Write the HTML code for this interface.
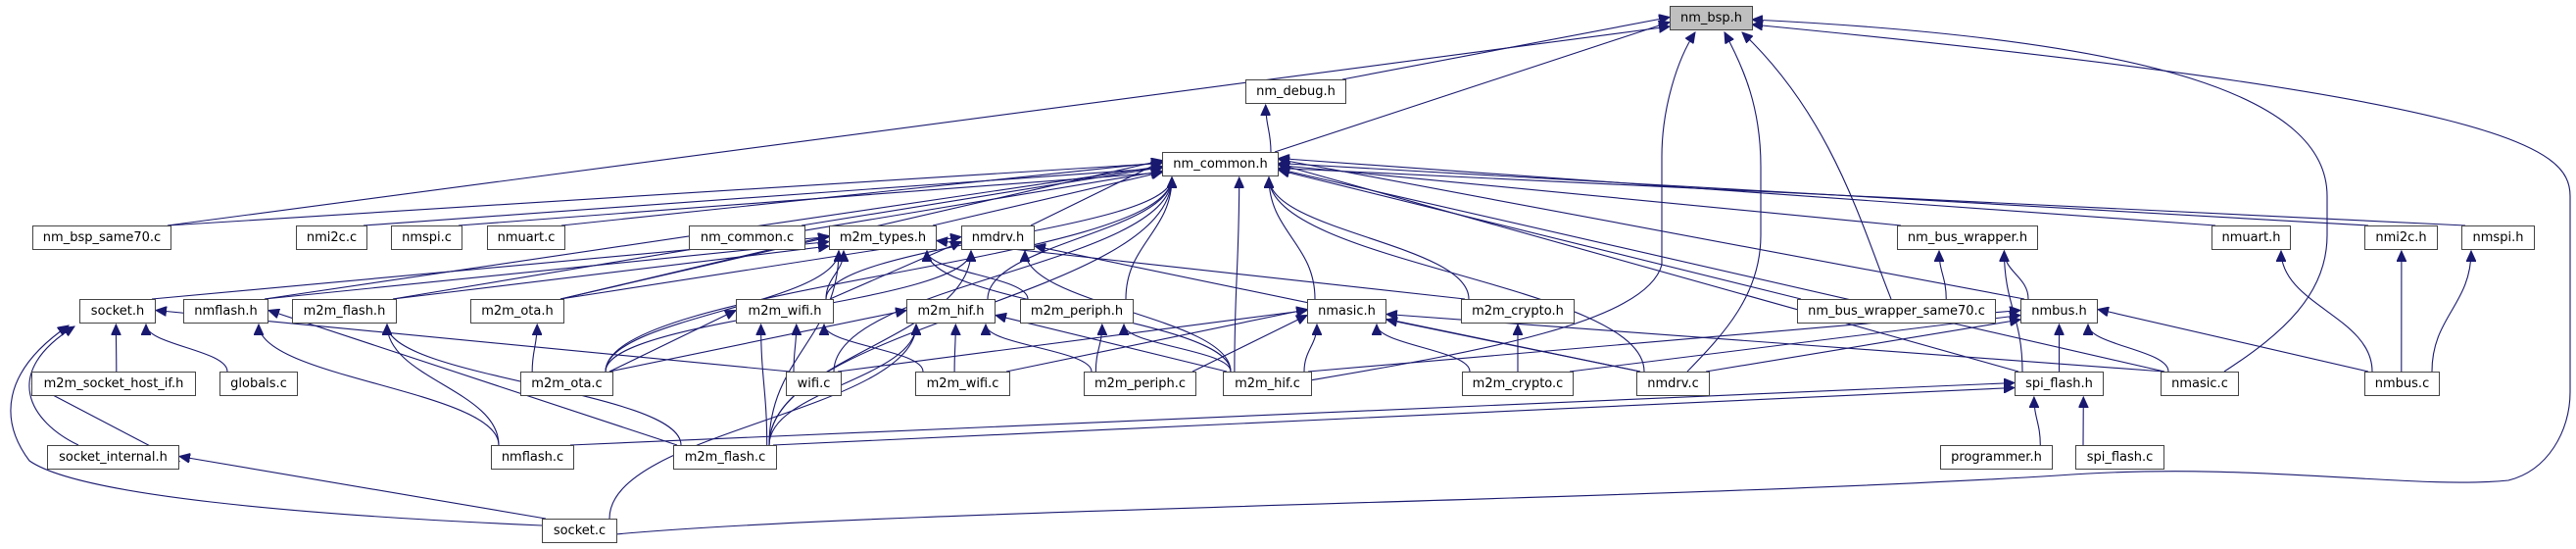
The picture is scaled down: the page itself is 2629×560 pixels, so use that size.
<!DOCTYPE html>
<html><head><meta charset="utf-8">
<style>
html,body{margin:0;padding:0;background:#fff;}
#c{position:relative;width:2629px;height:560px;overflow:hidden;background:#fff;}
.n{position:absolute;height:23px;border:1px solid #444;background:#fff;font-family:"DejaVu Sans","Liberation Sans",sans-serif;font-size:13px;line-height:23px;text-align:center;color:#000;white-space:nowrap;box-sizing:content-box;z-index:2;}
svg{position:absolute;left:0;top:0;z-index:1;}
</style></head><body>
<div id="c">
<svg id="s" width="2629" height="560" viewBox="0 0 2629 560">
<defs><marker id="a" markerUnits="userSpaceOnUse" markerWidth="12" markerHeight="10" refX="11" refY="5" orient="auto"><path d="M0,0 L11,5 L0,10 z" fill="#191970" stroke="#191970"/></marker></defs>
<g id="g" fill="none" stroke="#191970" stroke-width="1.1"></g>
</svg>
<div class="n" id="bsp" style="left:1704px;top:6px;width:83px;background:#bfbfbf">nm_bsp.h</div>
<div class="n" id="dbg" style="left:1271px;top:81px;width:101px">nm_debug.h</div>
<div class="n" id="cmh" style="left:1186px;top:155px;width:117px">nm_common.h</div>
<div class="n" id="s70" style="left:33px;top:230px;width:140px">nm_bsp_same70.c</div>
<div class="n" id="i2cc" style="left:302px;top:230px;width:71px">nmi2c.c</div>
<div class="n" id="spic" style="left:399px;top:230px;width:71px">nmspi.c</div>
<div class="n" id="uartc" style="left:497px;top:230px;width:78px">nmuart.c</div>
<div class="n" id="cmc" style="left:703px;top:230px;width:117px">nm_common.c</div>
<div class="n" id="typ" style="left:846px;top:230px;width:108px">m2m_types.h</div>
<div class="n" id="drvh" style="left:981px;top:230px;width:73px">nmdrv.h</div>
<div class="n" id="bwh" style="left:1936px;top:230px;width:142px">nm_bus_wrapper.h</div>
<div class="n" id="uarth" style="left:2257px;top:230px;width:79px">nmuart.h</div>
<div class="n" id="i2ch" style="left:2413px;top:230px;width:73px">nmi2c.h</div>
<div class="n" id="spih" style="left:2512px;top:230px;width:73px">nmspi.h</div>
<div class="n" id="sockh" style="left:81px;top:305px;width:76px">socket.h</div>
<div class="n" id="flh" style="left:187px;top:305px;width:85px">nmflash.h</div>
<div class="n" id="mflh" style="left:298px;top:305px;width:105px">m2m_flash.h</div>
<div class="n" id="otah" style="left:480px;top:305px;width:94px">m2m_ota.h</div>
<div class="n" id="wifih" style="left:751px;top:305px;width:98px">m2m_wifi.h</div>
<div class="n" id="hifh" style="left:925px;top:305px;width:89px">m2m_hif.h</div>
<div class="n" id="perh" style="left:1041px;top:305px;width:114px">m2m_periph.h</div>
<div class="n" id="asich" style="left:1334px;top:305px;width:79px">nmasic.h</div>
<div class="n" id="cryh" style="left:1491px;top:305px;width:114px">m2m_crypto.h</div>
<div class="n" id="bws" style="left:1834px;top:305px;width:201px">nm_bus_wrapper_same70.c</div>
<div class="n" id="bush" style="left:2062px;top:305px;width:77px">nmbus.h</div>
<div class="n" id="shi" style="left:32px;top:379px;width:166px">m2m_socket_host_if.h</div>
<div class="n" id="glb" style="left:224px;top:379px;width:78px">globals.c</div>
<div class="n" id="otac" style="left:531px;top:379px;width:93px">m2m_ota.c</div>
<div class="n" id="wific" style="left:802px;top:379px;width:55px">wifi.c</div>
<div class="n" id="mwific" style="left:934px;top:379px;width:95px">m2m_wifi.c</div>
<div class="n" id="perc" style="left:1106px;top:379px;width:113px">m2m_periph.c</div>
<div class="n" id="hifc" style="left:1248px;top:379px;width:89px">m2m_hif.c</div>
<div class="n" id="cryc" style="left:1492px;top:379px;width:112px">m2m_crypto.c</div>
<div class="n" id="drvc" style="left:1670px;top:379px;width:73px">nmdrv.c</div>
<div class="n" id="spifh" style="left:2056px;top:379px;width:89px">spi_flash.h</div>
<div class="n" id="asicc" style="left:2205px;top:379px;width:78px">nmasic.c</div>
<div class="n" id="busc" style="left:2413px;top:379px;width:75px">nmbus.c</div>
<div class="n" id="sint" style="left:48px;top:454px;width:133px">socket_internal.h</div>
<div class="n" id="flc" style="left:501px;top:454px;width:83px">nmflash.c</div>
<div class="n" id="mflc" style="left:687px;top:454px;width:104px">m2m_flash.c</div>
<div class="n" id="prog" style="left:1980px;top:454px;width:113px">programmer.h</div>
<div class="n" id="spic2" style="left:2118px;top:454px;width:89px">spi_flash.c</div>
<div class="n" id="sockc" style="left:553px;top:529px;width:75px">socket.c</div>
</div>
<script>
(function(){
var g=document.getElementById('g');
function box(id){var e=document.getElementById(id);var l=e.offsetLeft,t=e.offsetTop,w=e.offsetWidth,h=e.offsetHeight;return {l:l,t:t,r:l+w,b:t+h,cx:l+w/2,cy:t+h/2};}
function add(d){var p=document.createElementNS('http://www.w3.org/2000/svg','path');p.setAttribute('d',d);p.setAttribute('marker-end','url(#a)');g.appendChild(p);}
function clamp(v,a,b){return Math.max(a,Math.min(b,v));}
var cnt={};
function E(c,p){
 var C=box(c),P=box(p);
 var dx=C.cx-P.cx, dy=C.t-P.b;
 if(dy<=0 || Math.abs(dx)>4*dy){
  cnt[p]=(cnt[p]||0)+1;
  var off=((cnt[p]*5)%16)-6;
  var sx,ex,sy,ey=clamp(P.cy+off,P.t+4,P.b-4);
  if(dx<0){sx=C.r-4;ex=P.l;}else{sx=C.l+4;ex=P.r;}
  sy=(dy>0)?C.t:C.cy;
  if(dy<=0){sx=(dx<0)?C.r:C.l;}
  add('M'+sx+','+sy+' L'+ex+','+ey);
 } else {
  var sx=clamp(P.cx+dx*0.3,C.l+8,C.r-8), ex=clamp(C.cx-dx*0.6,P.l+10,P.r-10);
  var sy=C.t, ey=P.b, k=dy*0.45;
  add('M'+sx+','+sy+' C'+sx+','+(sy-k)+' '+ex+','+(ey+k)+' '+ex+','+(ey+1));
 }
}
var edges=[
['dbg','bsp'],['cmh','bsp'],['s70','bsp'],['cmh','dbg'],
['s70','cmh'],['i2cc','cmh'],['spic','cmh'],['uartc','cmh'],['cmc','cmh'],['typ','cmh'],['drvh','cmh'],
['flh','cmh'],['mflh','cmh'],['otah','cmh'],['otac','cmh'],['wifih','cmh'],['wific','cmh'],['hifh','cmh'],['perh','cmh'],
['mflc','cmh'],['hifc','cmh'],['asich','cmh'],['cryh','cmh'],['drvc','cmh'],['bwh','cmh'],['bws','cmh'],['bush','cmh'],
['spifh','cmh'],['asicc','cmh'],['uarth','cmh'],['i2ch','cmh'],['spih','cmh'],
['sockh','typ'],['flh','typ'],['mflh','typ'],['otah','typ'],['otac','typ'],['wifih','typ'],['mflc','typ'],['perh','typ'],['hifc','typ'],['cryh','typ'],
['otah','drvh'],['otac','drvh'],['wifih','drvh'],['mflc','drvh'],['hifc','drvh'],['drvc','drvh'],
['shi','sockh'],['glb','sockh'],['wific','sockh'],
['sockc','sint'],['shi','sint'],
['flc','flh'],['mflc','flh'],['flc','mflh'],['mflc','mflh'],['otac','otah'],
['otac','wifih'],['wific','wifih'],['mflc','wifih'],['mwific','wifih'],
['otac','hifh'],['mwific','hifh'],['mflc','hifh'],['perc','hifh'],['hifc','hifh'],['sockc','hifh'],
['perc','perh'],['hifc','perh'],
['wific','asich'],['perc','asich'],['hifc','asich'],['cryc','asich'],['drvc','asich'],['mwific','asich'],['asicc','asich'],
['cryc','cryh'],
['bws','bwh'],['bush','bwh'],['spifh','bwh'],
['hifc','bush'],['cryc','bush'],['drvc','bush'],['spifh','bush'],['asicc','bush'],['busc','bush'],
['prog','spifh'],['spic2','spifh'],['flc','spifh'],['mflc','spifh'],
['busc','uarth'],['busc','i2ch'],['busc','spih']
];
edges.forEach(function(e){E(e[0],e[1]);});
add('M1337,388 C1500,360 1680,330 1696,270 L1696,160 C1696,110 1712,60 1730,33');
add('M1722,379 C1760,340 1797,300 1797,240 L1797,170 C1797,110 1780,70 1760,33');
add('M1930,305 C1900,230 1870,120 1778,33');
add('M2270,379 C2330,340 2375,300 2375,240 L2375,200 C2375,100 2200,40 1788,20');
add('M628,545 C900,520 1700,510 2100,485 C2300,470 2460,500 2560,490 C2600,480 2623,440 2623,400 L2623,200 C2623,150 2560,100 1788,25');
add('M553,536 C300,525 80,505 30,470 C0,430 0,380 70,332');
add('M80,454 C30,430 0,380 76,333');
})();
</script>
</body></html>
